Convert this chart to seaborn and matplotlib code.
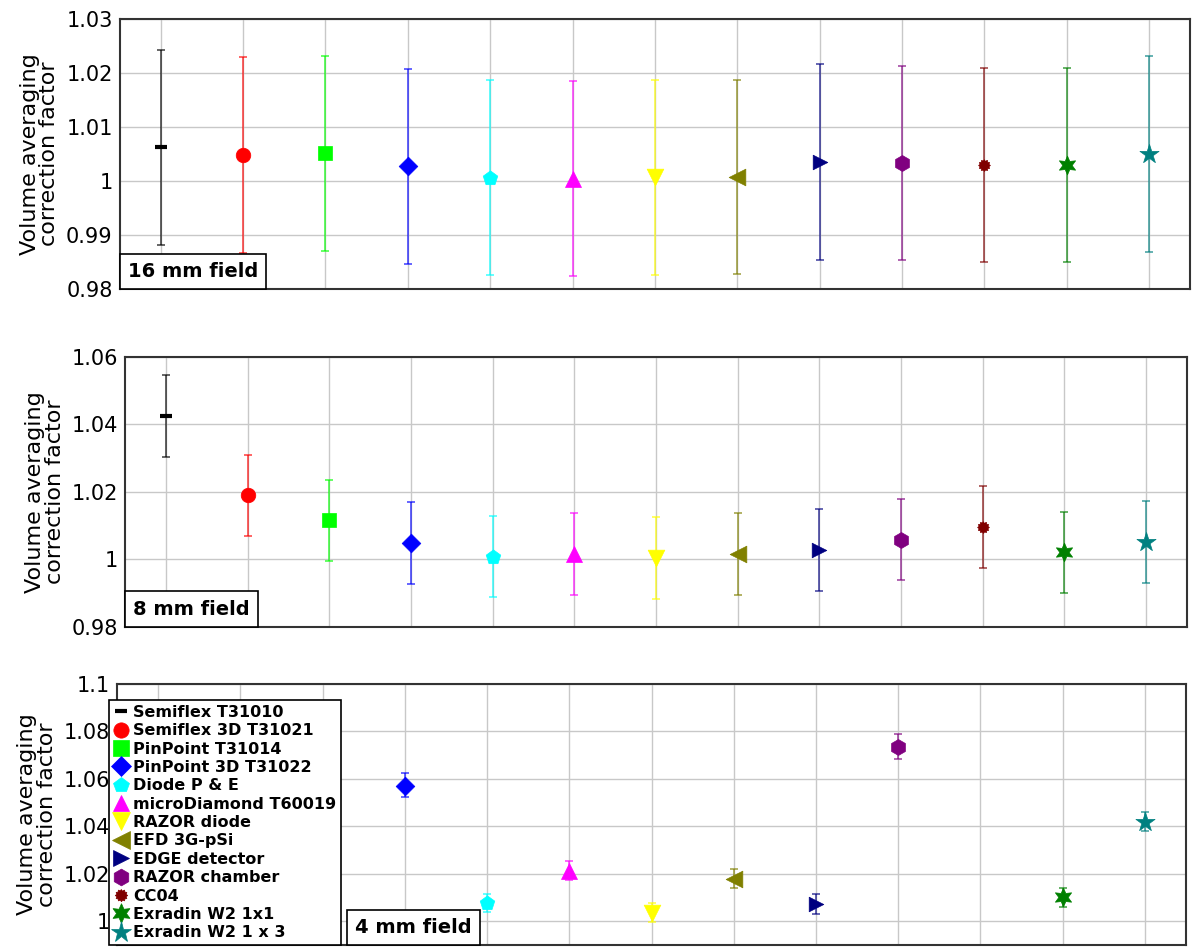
import numpy as np
import matplotlib
matplotlib.use('agg')
import matplotlib.pyplot as plt
from matplotlib.lines import Line2D
from matplotlib.offsetbox import AnchoredText
import seaborn as sns

# detectors and colours
detectors = ['Semiflex T31010', 'Semiflex 3D T31021', 'PinPoint T31014', 'PinPoint 3D T31022',
             'Diode P & E', 'microDiamond T60019', 'RAZOR diode', 'EFD 3G-pSi',
             'EDGE detector', 'RAZOR chamber', 'CC04', 'Exradin W2 1x1', 'Exradin W2 1 x 3']
colors = ['black', '#ff0000', '#00ff00', '#0000ff', '#00ffff', '#ff00ff', '#ffff00', '#808000',
          '#000080', '#800080', '#800000', '#008000', '#008080']

# 16 mm field
f16 = [1.0063, 1.0048, 1.0052, 1.0027, 1.0006, 1.0004, 1.0007, 1.0008, 1.0035, 1.0033, 1.0030, 1.0030, 1.0050]
f16_hi = [1.0243, 1.0229, 1.0232, 1.0208, 1.0187, 1.0185, 1.0187, 1.0188, 1.0216, 1.0213, 1.0210, 1.0210, 1.0231]
f16_lo = [0.9882, 0.9867, 0.9871, 0.9846, 0.9826, 0.9824, 0.9826, 0.9827, 0.9854, 0.9853, 0.9850, 0.9850, 0.9869]

# 8 mm field
f8 = [1.0424, 1.0189, 1.0115, 1.0047, 1.0008, 1.0015, 1.0004, 1.0015, 1.0028, 1.0058, 1.0095, 1.0021, 1.0050]
f8_hi = [1.0545, 1.0310, 1.0236, 1.0169, 1.0128, 1.0137, 1.0124, 1.0136, 1.0149, 1.0179, 1.0216, 1.0141, 1.0172]
f8_lo = [1.0304, 1.0068, 0.9995, 0.9927, 0.9887, 0.9894, 0.9883, 0.9894, 0.9907, 0.9938, 0.9974, 0.9900, 0.9930]

# 4 mm field (first three and CC04 not shown)
nan = np.nan
f4 = [nan, nan, nan, 1.0572, 1.0079, 1.0212, 1.0037, 1.0180, 1.0072, 1.0736, nan, 1.0101, 1.0419]
f4_hi = [nan, nan, nan, 1.0623, 1.0117, 1.0255, 1.0078, 1.0222, 1.0113, 1.0788, nan, 1.0141, 1.0460]
f4_lo = [nan, nan, nan, 1.0523, 1.0038, 1.0174, 0.9996, 1.0139, 1.0031, 1.0686, nan, 1.0060, 1.0381]

# marker shapes
ang = np.linspace(0, 2 * np.pi, 25)[:-1] + np.pi / 2
rad = np.where(np.arange(24) % 2 == 0, 1.0, 0.78)
cc04_marker = [tuple(v) for v in np.column_stack([rad * np.cos(ang), rad * np.sin(ang)])]
markers = ['_', 'o', 's', 'D', 'p', '^', 'v', '<', '>', 'h', cc04_marker, (6, 1, 0), '*']
msizes = [9, 10.5, 10.5, 9.5, 11, 11.5, 12, 12, 10.5, 11.5, 8.5, 13.5, 14.5]

sns.set_style('whitegrid', {'grid.color': '#c8c8c8', 'axes.edgecolor': '#333333'})
plt.rcParams['font.family'] = ['DejaVu Sans']
plt.rcParams['text.color'] = 'black'
plt.rcParams['axes.labelcolor'] = 'black'
plt.rcParams['ytick.color'] = 'black'

fig = plt.figure(figsize=(11.93, 9.47), dpi=100)
axes_pos = [[0.1003, 0.6948, 0.8972, 0.2851],
            [0.1048, 0.3382, 0.8902, 0.2851],
            [0.0981, 0.0021, 0.8961, 0.2756]]
panels = [(f16, f16_lo, f16_hi, (0.98, 1.03), [0.98, 0.99, 1.0, 1.01, 1.02, 1.03], '16 mm field'),
          (f8, f8_lo, f8_hi, (0.98, 1.06), [0.98, 1.0, 1.02, 1.04, 1.06], '8 mm field'),
          (f4, f4_lo, f4_hi, (0.99, 1.10), [1.0, 1.02, 1.04, 1.06, 1.08, 1.1], '4 mm field')]
xpos = np.arange(1, len(detectors) + 1)
is_dash = [isinstance(m, str) and m == '_' for m in markers]

for k, (vals, lo, hi, ylim, yt, label) in enumerate(panels):
    ax = fig.add_axes(axes_pos[k])
    vals = np.array(vals)
    lo = np.array(lo)
    hi = np.array(hi)
    for i in range(len(detectors)):
        if np.isnan(vals[i]):
            continue
        ax.errorbar(xpos[i], vals[i], yerr=[[vals[i] - lo[i]], [hi[i] - vals[i]]],
                    fmt='none', ecolor=colors[i], alpha=0.65, elinewidth=1.3,
                    capsize=3.2, capthick=1.3, zorder=2)
        if is_dash[i]:
            sns.scatterplot(x=[xpos[i]], y=[vals[i]], marker='_', color=colors[i],
                            s=msizes[i] ** 2, linewidth=3, ax=ax, zorder=3)
        else:
            sns.scatterplot(x=[xpos[i]], y=[vals[i]], marker=markers[i], color=colors[i],
                            edgecolor=colors[i], s=msizes[i] ** 2, linewidth=0.5, ax=ax, zorder=3)
    ax.set_xlim(0.5, 13.5)
    ax.set_ylim(*ylim)
    ax.set_xticks(xpos)
    ax.set_xticklabels([])
    ax.set_yticks(yt)
    ax.set_yticklabels(['%g' % t for t in yt], fontsize=15)
    ax.tick_params(length=0, pad=5)
    ax.grid(True, color='#c8c8c8', linewidth=1)
    for sp in ax.spines.values():
        sp.set_linewidth(1.5)
        sp.set_color('#333333')
    ax.set_ylabel('Volume averaging\ncorrection factor', fontsize=16, linespacing=0.95, labelpad=5)

    if k == 2:
        at = AnchoredText(label, loc='lower left', prop=dict(size=14, weight='bold', color='black'),
                          frameon=True, borderpad=0, pad=0.42,
                          bbox_to_anchor=(0.215, 0.0), bbox_transform=ax.transAxes)
    else:
        at = AnchoredText(label, loc='lower left', prop=dict(size=14, weight='bold', color='black'),
                          frameon=True, borderpad=0, pad=0.42)
    at.patch.set_boxstyle('square,pad=0')
    at.patch.set_edgecolor('black')
    at.patch.set_linewidth(1.2)
    at.set_zorder(5)
    ax.add_artist(at)

    if k == 2:
        handles = []
        for i in range(len(detectors)):
            if is_dash[i]:
                h = Line2D([], [], marker='_', color=colors[i], linestyle='none',
                           markersize=8, markeredgewidth=3)
            else:
                h = Line2D([], [], marker=markers[i], color=colors[i], linestyle='none',
                           markersize=msizes[i] * 1.05, markeredgewidth=0.5)
            handles.append(h)
        leg = ax.legend(handles, detectors, loc='lower left', bbox_to_anchor=(109 / 1193, 2 / 947),
                        bbox_transform=fig.transFigure, fancybox=False, framealpha=1,
                        edgecolor='black', prop=dict(size=11.5, weight='bold'),
                        handlelength=0.9, handletextpad=0.3, labelspacing=0.21,
                        borderpad=0.3, borderaxespad=0)
        leg.get_frame().set_linewidth(1.2)
        leg.set_zorder(6)

fig.savefig('out.png', dpi=100)
